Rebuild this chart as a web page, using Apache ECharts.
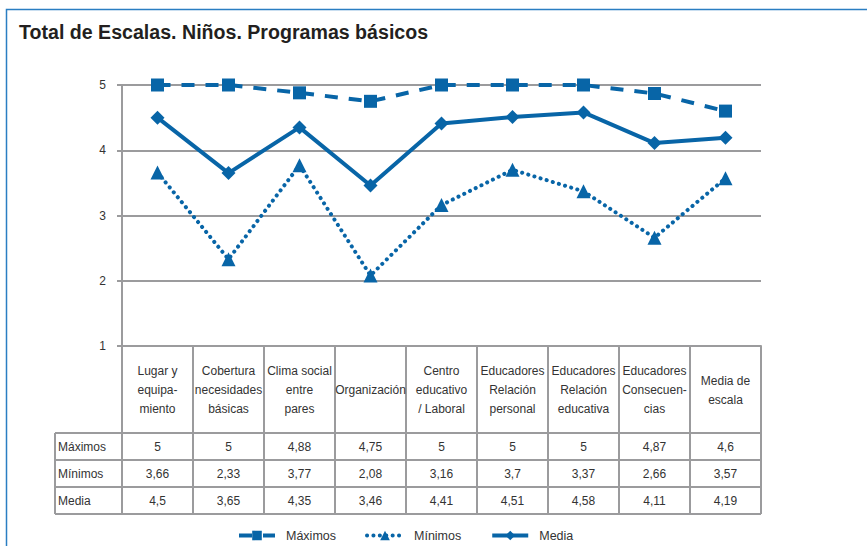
<!DOCTYPE html>
<html>
<head>
<meta charset="utf-8">
<script src="https://cdn.jsdelivr.net/npm/echarts@6/dist/echarts.min.js"></script>
<style>
  html, body { margin: 0; padding: 0; background: #fff; }
  #chart { width: 867px; height: 546px; }
</style>
</head>
<body>
<div id="chart"></div>
<script>
// datos
var categories = ['Lugar y\nequipa-\nmiento', 'Cobertura\nnecesidades\nbásicas', 'Clima social\nentre\npares',
                  'Organización', 'Centro\neducativo\n/ Laboral', 'Educadores\nRelación\npersonal',
                  'Educadores\nRelación\neducativa', 'Educadores\nConsecuen-\ncias', 'Media de\nescala'];
var maximos = [5, 5, 4.88, 4.75, 5, 5, 5, 4.87, 4.6];
var minimos = [3.66, 2.33, 3.77, 2.08, 3.16, 3.7, 3.37, 2.66, 3.57];
var media   = [4.5, 3.65, 4.35, 3.46, 4.41, 4.51, 4.58, 4.11, 4.19];
var seriesNames = ['Máximos', 'Mínimos', 'Media'];
var yTicks = [1, 2, 3, 4, 5];

var blue = '#0865a7';
var gray = '#9b9b9d';
var font = '"Liberation Sans", Arial, sans-serif';

//formato con coma decimal
function fmt(v) {
    return String(v).replace('.', ',');
}

var chart = echarts.init(document.getElementById('chart'), null, {renderer: 'svg'});

var option = {
    animation: false,
    textStyle: {fontFamily: font},
    title: {
        text: 'Total de Escalas. Niños. Programas básicos',
        left: 14,
        top: 17,
        textStyle: {fontSize: 19.6, fontWeight: 'bold', color: '#231f20', fontFamily: font}
    },
    legend: {
        data: seriesNames,
        left: 232,
        top: 524,
        itemWidth: 36,
        itemHeight: 12,
        itemGap: 29,
        lineStyle: {width: 4},
        textStyle: {fontSize: 12.5, color: '#333', fontFamily: font, padding: [0, 0, 0, 6]}
    },
    grid: {left: 122, right: 106, top: 85, bottom: 200},
    xAxis: {
        type: 'category',
        data: categories,
        boundaryGap: true,
        axisLine: {show: true, lineStyle: {color: gray, width: 2}},
        axisTick: {show: false},
        axisLabel: {
            interval: 0,
            margin: 44,
            verticalAlign: 'middle',
            lineHeight: 19,
            fontSize: 12,
            color: '#333',
            fontFamily: font
        }
    },
    yAxis: {
        type: 'value',
        min: yTicks[0],
        max: yTicks[yTicks.length - 1],
        interval: 1,
        axisLine: {show: true, lineStyle: {color: gray, width: 2}},
        axisTick: {show: true, length: 5, lineStyle: {color: gray, width: 2}},
        axisLabel: {margin: 16, fontSize: 12, color: '#333', fontFamily: font},
        splitLine: {show: true, lineStyle: {color: gray, width: 2}}
    },
    series: [
        {
            name: seriesNames[0], type: 'line', data: maximos,
            symbol: 'rect', symbolSize: 13,
            itemStyle: {color: blue},
            lineStyle: {color: blue, width: 4, type: [13, 11]},
            z: 3
        },
        {
            name: seriesNames[1], type: 'line', data: minimos,
            symbol: 'triangle', symbolSize: 14,
            itemStyle: {color: blue},
            lineStyle: {color: blue, width: 4, type: [0.1, 6.3], cap: 'round'},
            z: 3
        },
        {
            name: seriesNames[2], type: 'line', data: media,
            symbol: 'diamond', symbolSize: 14,
            itemStyle: {color: blue},
            lineStyle: {color: blue, width: 4},
            z: 3
        }
    ]
};
chart.setOption(option);

//tabla de datos bajo el eje
function buildTable() {
    var x0 = chart.convertToPixel({xAxisIndex: 0}, 0);
    var x1 = chart.convertToPixel({xAxisIndex: 0}, 1);
    var colW = x1 - x0;
    var left = x0 - colW / 2;
    var right = left + colW * categories.length;
    var top = chart.convertToPixel({yAxisIndex: 0}, yTicks[0]);
    var headH = 87, rowH = 27, labelW = 67;
    var rows = [maximos, minimos, media];
    var bottom = top + headH + rowH * rows.length;
    var lineStyle = {stroke: gray, lineWidth: 2};
    var els = [];

    // marco azul exterior
    els.push({type: 'polyline', shape: {points: [[6.5, 560], [6.5, 9.5], [880, 9.5]]},
              style: {stroke: '#2a7ec2', lineWidth: 1.5, fill: null}, silent: true});

    for (var k = 0; k <= categories.length; k++) {
        var x = left + k * colW;
        els.push({type: 'line', shape: {x1: x, y1: top, x2: x, y2: bottom}, style: lineStyle});
    }
    els.push({type: 'line', shape: {x1: left - labelW, y1: top + headH, x2: left - labelW, y2: bottom}, style: lineStyle});
    for (var r = 0; r <= rows.length; r++) {
        var y = top + headH + r * rowH;
        els.push({type: 'line', shape: {x1: left - labelW, y1: y, x2: right, y2: y}, style: lineStyle});
    }
    for (r = 0; r < rows.length; r++) {
        var cy = top + headH + r * rowH + rowH / 2;
        els.push({type: 'text', x: left - labelW + 3, y: cy,
                  style: {text: seriesNames[r], font: '12px ' + font, fill: '#333', verticalAlign: 'middle', align: 'left'}});
        for (var c = 0; c < rows[r].length; c++) {
            els.push({type: 'text', x: left + c * colW + colW / 2, y: cy,
                      style: {text: fmt(rows[r][c]), font: '12px ' + font, fill: '#333', verticalAlign: 'middle', align: 'center'}});
        }
    }
    chart.setOption({graphic: {elements: els}});
}
buildTable();
</script>
</body>
</html>
